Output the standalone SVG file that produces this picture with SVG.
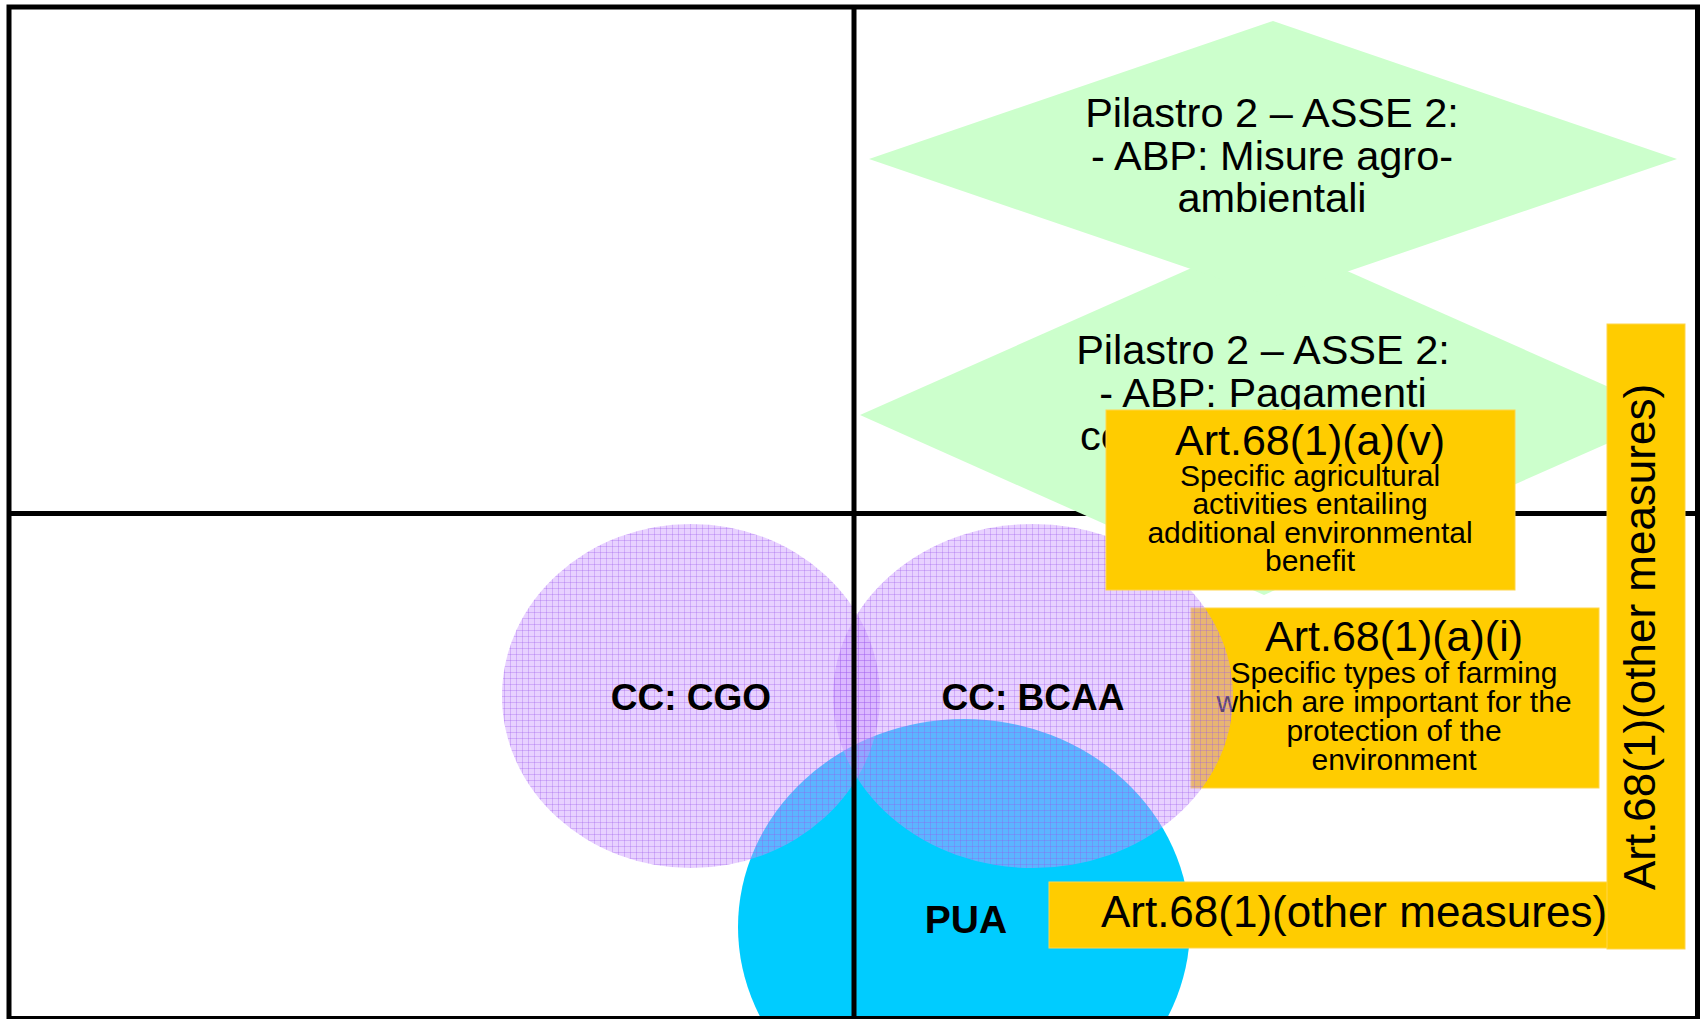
<svg xmlns="http://www.w3.org/2000/svg" width="1700" height="1019" viewBox="0 0 1700 1019">
<style>
  .t { font-family: "Liberation Sans", Arial, sans-serif; fill: #000; text-anchor: middle; }
  .big { font-size: 43px; }
  .small { font-size: 30px; }
  .dia { font-size: 41.5px; }
  .lbl { font-size: 37px; font-weight: bold; }
  .box { fill: #FFCC00; stroke: #FFD54A; stroke-width: 1; }
  .diamond { fill: #CCFFCC; }
  .line { stroke: #000; stroke-width: 5; fill: none; }
  .cc { fill: url(#grid); }
</style>
<defs>
  <pattern id="grid" width="6" height="6" patternUnits="userSpaceOnUse">
    <rect width="6" height="6" fill="#CC99FF" fill-opacity="0.45"/>
    <path d="M0 0.5H6M0.5 0V6" stroke="#9955EE" stroke-opacity="0.3" stroke-width="1"/>
  </pattern>
</defs>
<rect width="1700" height="1019" fill="#FFFFFF"/>

<g id="box-art68-a-i">
  <rect class="box" x="1191" y="608" width="408" height="180"/>
  <text class="t big" x="1394" y="651">Art.68(1)(a)(i)</text>
  <text class="t small" x="1394" y="682.5">Specific types of farming</text>
  <text class="t small" x="1394" y="711.5">which are important for the</text>
  <text class="t small" x="1394" y="740.5">protection of the</text>
  <text class="t small" x="1394" y="769.5">environment</text>
</g>

<g id="pua">
  <ellipse cx="964" cy="927" rx="226" ry="208" fill="#00CCFF"/>
  <text class="t lbl" x="966" y="933" style="font-size:39px">PUA</text>
</g>

<g id="cc-cgo">
  <ellipse class="cc" cx="691" cy="696" rx="189" ry="172"/>
  <text class="t lbl" x="691" y="710">CC: CGO</text>
</g>

<g id="cc-bcaa">
  <ellipse class="cc" cx="1033" cy="696" rx="200" ry="172"/>
  <text class="t lbl" x="1033" y="710">CC: BCAA</text>
</g>

<g id="connectors">
  <rect class="line" x="9" y="7" width="1688.5" height="1011.5"/>
  <line class="line" x1="854" y1="7" x2="854" y2="1018"/>
  <line class="line" x1="9" y1="513.5" x2="1697" y2="513.5"/>
</g>

<g id="pilastro2-pagamenti">
  <polygon class="diamond" points="1266,235 1672,415 1264,595 860,415"/>
  <text class="t dia" x="1263" y="364">Pilastro 2 – ASSE 2:</text>
  <text class="t dia" x="1263" y="407">- ABP: Pagamenti</text>
  <text class="t dia" x="1080" y="450" style="text-anchor:start">co</text>
</g>

<g id="pilastro2-misure">
  <polygon class="diamond" points="1273,21 1677,159 1273,297 869,159"/>
  <text class="t dia" x="1272" y="127">Pilastro 2 – ASSE 2:</text>
  <text class="t dia" x="1272" y="169.5">- ABP: Misure agro-</text>
  <text class="t dia" x="1272" y="212">ambientali</text>
</g>

<g id="box-art68-a-v">
  <rect class="box" x="1106" y="410" width="409" height="180"/>
  <text class="t big" x="1310" y="455">Art.68(1)(a)(v)</text>
  <text class="t small" x="1310" y="485.5">Specific agricultural</text>
  <text class="t small" x="1310" y="514">activities entailing</text>
  <text class="t small" x="1310" y="542.5">additional environmental</text>
  <text class="t small" x="1310" y="571">benefit</text>
</g>

<g id="box-art68-other-h">
  <rect class="box" x="1049" y="882" width="600" height="66"/>
  <text class="t big" x="1354" y="927" style="font-size:44px">Art.68(1)(other measures)</text>
</g>

<g id="box-art68-other-v">
  <rect class="box" x="1607" y="324" width="78" height="625"/>
  <text class="t big" transform="translate(1655,637) rotate(-90)" style="font-size:44px">Art.68(1)(other measures)</text>
</g>
</svg>
